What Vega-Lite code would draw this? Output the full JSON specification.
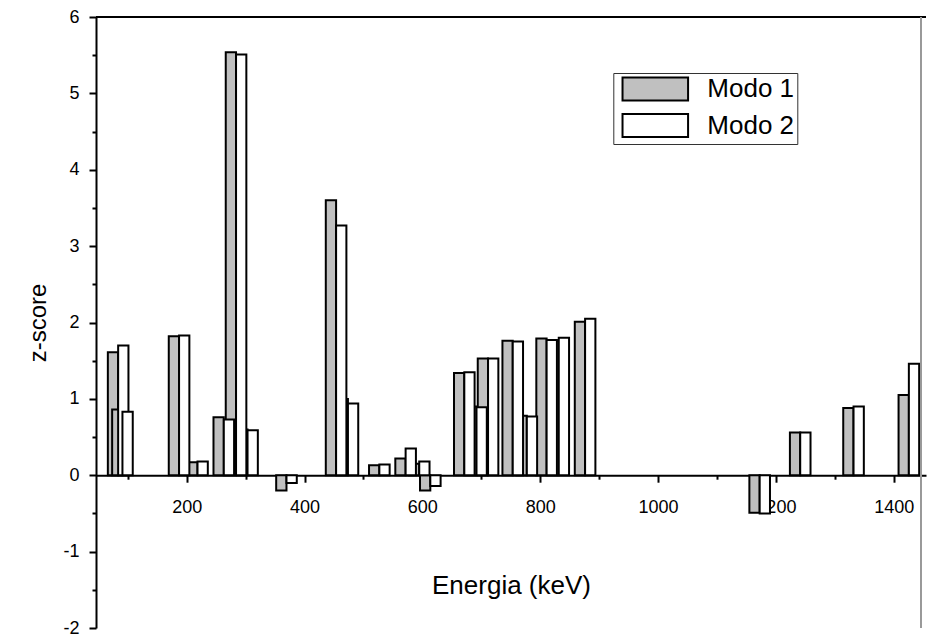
{
  "$schema": "https://vega.github.io/schema/vega-lite/v6.json",
  "width": 830,
  "height": 611,
  "autosize": {"type": "none"},
  "padding": {"left": 96, "top": 17, "right": 2, "bottom": 9},
  "background": "white",
  "config": {
    "view": {"stroke": null},
    "font": "Liberation Sans",
    "legend": {
      "orient": "none",
      "legendX": 517.3,
      "legendY": 56,
      "strokeColor": "#333333",
      "fillColor": "white",
      "padding": 3,
      "symbolType": "M-2.85,-1H2.85V1H-2.85Z",
      "symbolSize": 529,
      "symbolStrokeColor": "black",
      "symbolStrokeWidth": 2,
      "symbolOpacity": 1,
      "symbolOffset": 26,
      "labelOffset": 39,
      "labelFont": "Liberation Sans",
      "labelFontSize": 26,
      "labelColor": "black",
      "labelExpr": "datum.label + '\u00a0\u00a0'",
      "rowPadding": 4.5
    }
  },
  "resolve": {"axis": {"x": "independent", "y": "independent"}},
  "data": {
    "values": [
      {"E": 83.7, "modo": "Modo 1", "z": 1.61}, {"E": 83.7, "modo": "Modo 2", "z": 1.70},
      {"E": 91.0, "modo": "Modo 1", "z": 0.86}, {"E": 91.0, "modo": "Modo 2", "z": 0.83},
      {"E": 187.1, "modo": "Modo 1", "z": 1.82}, {"E": 187.1, "modo": "Modo 2", "z": 1.83},
      {"E": 218.4, "modo": "Modo 1", "z": 0.17}, {"E": 218.4, "modo": "Modo 2", "z": 0.18},
      {"E": 263.0, "modo": "Modo 1", "z": 0.76}, {"E": 263.0, "modo": "Modo 2", "z": 0.73},
      {"E": 283.8, "modo": "Modo 1", "z": 5.54}, {"E": 283.8, "modo": "Modo 2", "z": 5.51},
      {"E": 303.3, "modo": "Modo 1", "z": 0.60}, {"E": 303.3, "modo": "Modo 2", "z": 0.59},
      {"E": 369.4, "modo": "Modo 1", "z": -0.20}, {"E": 369.4, "modo": "Modo 2", "z": -0.10},
      {"E": 453.6, "modo": "Modo 1", "z": 3.60}, {"E": 453.6, "modo": "Modo 2", "z": 3.27},
      {"E": 473.7, "modo": "Modo 1", "z": 1.00}, {"E": 473.7, "modo": "Modo 2", "z": 0.94},
      {"E": 527.0, "modo": "Modo 1", "z": 0.13}, {"E": 527.0, "modo": "Modo 2", "z": 0.14},
      {"E": 571.6, "modo": "Modo 1", "z": 0.22}, {"E": 571.6, "modo": "Modo 2", "z": 0.35},
      {"E": 594.7, "modo": "Modo 1", "z": 0.15}, {"E": 594.7, "modo": "Modo 2", "z": 0.18},
      {"E": 613.5, "modo": "Modo 1", "z": -0.20}, {"E": 613.5, "modo": "Modo 2", "z": -0.14},
      {"E": 671.2, "modo": "Modo 1", "z": 1.34}, {"E": 671.2, "modo": "Modo 2", "z": 1.35},
      {"E": 691.9, "modo": "Modo 1", "z": 0.90}, {"E": 691.9, "modo": "Modo 2", "z": 0.89},
      {"E": 711.5, "modo": "Modo 1", "z": 1.53}, {"E": 711.5, "modo": "Modo 2", "z": 1.53},
      {"E": 753.4, "modo": "Modo 1", "z": 1.76}, {"E": 753.4, "modo": "Modo 2", "z": 1.75},
      {"E": 777.3, "modo": "Modo 1", "z": 0.78}, {"E": 777.3, "modo": "Modo 2", "z": 0.77},
      {"E": 810.9, "modo": "Modo 1", "z": 1.79}, {"E": 810.9, "modo": "Modo 2", "z": 1.77},
      {"E": 831.5, "modo": "Modo 1", "z": 1.76}, {"E": 831.5, "modo": "Modo 2", "z": 1.80},
      {"E": 876.2, "modo": "Modo 1", "z": 2.01}, {"E": 876.2, "modo": "Modo 2", "z": 2.05},
      {"E": 1172.5, "modo": "Modo 1", "z": -0.49}, {"E": 1172.5, "modo": "Modo 2", "z": -0.50},
      {"E": 1241.3, "modo": "Modo 1", "z": 0.56}, {"E": 1241.3, "modo": "Modo 2", "z": 0.56},
      {"E": 1331.8, "modo": "Modo 1", "z": 0.88}, {"E": 1331.8, "modo": "Modo 2", "z": 0.90},
      {"E": 1425.7, "modo": "Modo 1", "z": 1.05}, {"E": 1425.7, "modo": "Modo 2", "z": 1.46}
    ]
  },
  "layer": [
    {
      "encoding": {
        "x": {
          "field": "E", "type": "quantitative",
          "scale": {"domain": [54.6, 1446.3], "nice": false, "zero": false},
          "axis": {
            "orient": "bottom",
            "values": [200, 400, 600, 800, 1000, 1200, 1400],
            "labelExpr": "'' + datum.value",
            "tickSize": 7,
            "offset": -152.8,
            "grid": false,
            "domainColor": "black", "domainWidth": 2,
            "tickColor": "black", "tickWidth": 2,
            "labelFont": "Liberation Sans", "labelFontSize": 18, "labelColor": "black",
            "labelPadding": 16, "labelFlush": false, "labelOverlap": false,
            "title": "Energia (keV)",
            "titleFont": "Liberation Sans", "titleFontSize": 26, "titleFontWeight": "normal", "titleColor": "black",
            "titlePadding": 56
          }
        },
        "y": {
          "field": "z", "type": "quantitative",
          "scale": {"domain": [-2, 6], "nice": false},
          "axis": {
            "orient": "left",
            "values": [-2, -1, 0, 1, 2, 3, 4, 5, 6],
            "labelExpr": "'' + datum.value",
            "tickSize": 7,
            "grid": false,
            "domainColor": "black", "domainWidth": 2,
            "tickColor": "black", "tickWidth": 2,
            "labelFont": "Liberation Sans", "labelFontSize": 18, "labelColor": "black",
            "labelPadding": 10, "labelFlush": false, "labelOverlap": false,
            "title": "z-score",
            "titleFont": "Liberation Sans", "titleFontSize": 24, "titleFontWeight": "normal", "titleColor": "black",
            "titlePadding": 12
          }
        },
        "color": {
          "field": "modo", "type": "nominal",
          "scale": {"domain": ["Modo 1", "Modo 2"], "range": ["#c0c0c0", "#ffffff"]},
          "legend": {"title": null}
        }
      },
      "layer": [
        {
          "transform": [{"filter": "datum.modo == 'Modo 1'"}],
          "mark": {"type": "bar", "width": 10.3, "xOffset": -5.15, "stroke": "black", "strokeWidth": 2, "opacity": 1}
        },
        {
          "transform": [{"filter": "datum.modo == 'Modo 2'"}],
          "mark": {"type": "bar", "width": 10.3, "xOffset": 5.15, "stroke": "black", "strokeWidth": 2, "opacity": 1}
        }
      ]
    },
    {
      "transform": [{"filter": "false"}],
      "mark": {"type": "point"},
      "encoding": {
        "x": {
          "field": "E", "type": "quantitative",
          "axis": {
            "orient": "bottom",
            "values": [100, 300, 500, 700, 900, 1100, 1300],
            "tickSize": 4, "offset": -152.8,
            "labels": false, "domain": false, "grid": false, "title": null,
            "tickColor": "black", "tickWidth": 2
          }
        },
        "y": {
          "field": "z", "type": "quantitative",
          "axis": {
            "orient": "left",
            "values": [-1.5, -0.5, 0.5, 1.5, 2.5, 3.5, 4.5, 5.5],
            "tickSize": 4,
            "labels": false, "domain": false, "grid": false, "title": null,
            "tickColor": "black", "tickWidth": 2
          }
        }
      }
    },
    {
      "mark": {"type": "rule", "color": "black", "strokeWidth": 2},
      "encoding": {"y": {"datum": 6, "axis": null}}
    },
    {
      "mark": {"type": "rule", "color": "#999999", "strokeWidth": 1},
      "encoding": {"x": {"datum": 1446.3, "axis": null}}
    }
  ]
}
